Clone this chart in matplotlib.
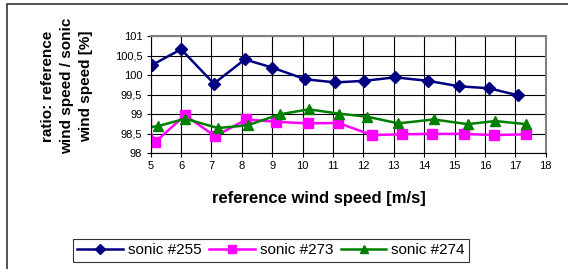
import matplotlib
matplotlib.use("Agg")
import matplotlib.pyplot as plt
from matplotlib.patches import Rectangle
from matplotlib.ticker import FuncFormatter

plt.rcParams['font.family'] = ['Liberation Sans', 'DejaVu Sans']

# reference wind speed bins [m/s] and ratio [%] per sonic
x_255 = [5.03, 6.0, 7.08, 8.1, 9.0, 10.09, 11.08, 12.02, 13.04, 14.13, 15.15, 16.14, 17.08]
r_255 = [100.25, 100.66, 99.78, 100.40, 100.19, 99.89, 99.81, 99.85, 99.94, 99.85, 99.71, 99.66, 99.48]

x_273 = [4.85, 5.15, 6.13, 7.12, 8.15, 9.14, 10.18, 11.17, 12.29, 13.26, 14.27, 15.3, 16.29, 17.35]
r_273 = [98.75, 98.28, 98.97, 98.43, 98.86, 98.80, 98.76, 98.77, 98.46, 98.48, 98.49, 98.49, 98.46, 98.48]

x_274 = [4.85, 5.25, 6.13, 7.21, 8.19, 9.24, 10.2, 11.19, 12.13, 13.15, 14.31, 15.43, 16.34, 17.35]
r_274 = [98.65, 98.69, 98.88, 98.64, 98.71, 98.99, 99.12, 99.01, 98.93, 98.76, 98.86, 98.74, 98.82, 98.74]

W, H = 568, 269
fig = plt.figure(figsize=(W / 100, H / 100), dpi=100)

# outer chart frame (left and top edges visible)
fig.patches.append(Rectangle((7 / W, -0.1), 1.2, 1 - 4 / H + 0.1, transform=fig.transFigure,
                             fill=False, edgecolor='#333333', linewidth=1.2))

ax = fig.add_axes([150.7 / W, 1 - 153 / H, 395 / W, 117 / H])
ax.plot(x_255, r_255, color='#000080', marker='D', markersize=6, linewidth=1.8, label='sonic #255')
ax.plot(x_273, r_273, color='#FF00FF', marker='s', markersize=7.5, linewidth=1.8, label='sonic #273')
ax.plot(x_274, r_274, color='#008000', marker='^', markersize=7, linewidth=1.8, label='sonic #274')

ax.set_xlim(5, 18)
ax.set_ylim(98, 101)
ax.set_xticks(range(5, 19))
ax.set_yticks([98, 98.5, 99, 99.5, 100, 100.5, 101])
ax.yaxis.set_major_formatter(FuncFormatter(lambda v, p: ('%g' % v).replace('.', ',')))
ax.grid(True, color='black', linewidth=0.8)
ax.set_axisbelow(True)
ax.tick_params(labelsize=8, length=3, width=0.8, color='black', pad=3)
for side in ['top', 'right']:
    ax.spines[side].set_color('#808080')
    ax.spines[side].set_linewidth(1.5)
ax.spines['left'].set_color('black')
ax.spines['bottom'].set_color('black')

fig.text(319 / W, 1 - 198 / H, 'reference wind speed [m/s]', fontsize=12, fontweight='bold',
         ha='center', va='center')
fig.text(67 / W, 1 - 86 / H, 'ratio: reference\nwind speed / sonic\nwind speed [%]', fontsize=11,
         fontweight='bold', rotation=90, ha='center', va='center', linespacing=1.5,
         multialignment='center')

leg = fig.legend(loc='center', bbox_to_anchor=(271 / W, 1 - 250.5 / H), ncol=3, fontsize=11,
                 frameon=True, fancybox=False, edgecolor='black', handlelength=3.0,
                 handletextpad=0.3, columnspacing=0.5, borderpad=0.3, markerscale=0.8)
leg.get_frame().set_linewidth(0.8)

fig.savefig('out.png', dpi=100)
